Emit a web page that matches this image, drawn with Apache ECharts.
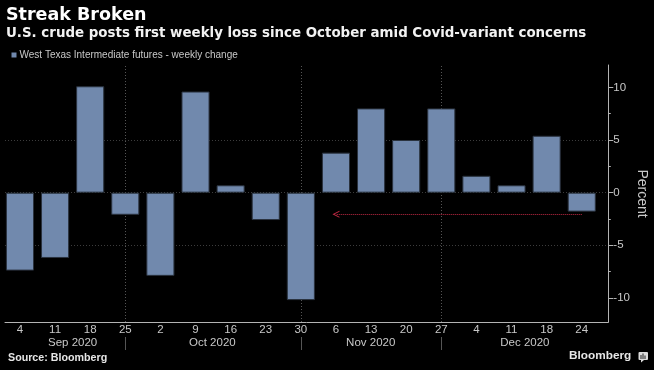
<!DOCTYPE html>
<html><head><meta charset="utf-8">
<script src="https://cdn.jsdelivr.net/npm/echarts@6/dist/echarts.min.js"></script>
<style>html,body{margin:0;padding:0;background:#000;}#c{width:654px;height:370px;}</style>
</head><body><div id="c"></div>
<script>
// ---- data ----
const weeks = ['4','11','18','25','2','9','16','23','30','6','13','20','27','4','11','18','24'];
const weeklyChange = [-7.4,-6.2,10.1,-2.1,-7.9,9.6,0.7,-2.6,-10.2,3.8,8.0,5.0,8.0,1.6,0.7,5.4,-1.8];
const months = ['Sep 2020','Oct 2020','Nov 2020','Dec 2020'];
const monthCenters = [1.5, 5.48, 9.99, 14.38];
const monthBreaks = [3, 8, 12];
const yTicks = [-10,-5,0,5,10];
const yMinorTicks = [-7.5,-2.5,2.5,7.5];
const arrowFrom = 16, arrowTo = 9, arrowLevel = -2.06;
const seriesName = 'West Texas Intermediate futures - weekly change';
const titleText = 'Streak Broken';
const subtitleText = 'U.S. crude posts first weekly loss since October amid Covid-variant concerns';
const sourceText = 'Source: Bloomberg';

const Y_MIN = -12.28, Y_MAX = 12.12;
const AX = '#b4b4b4', TXT = '#c8c8c8', FONT = 'Liberation Sans';
const chevron = 'path://M0,9 L5,0 L10,9 L8.6,9 L5,2.6 L1.4,9 Z';

const chart = echarts.init(document.getElementById('c'), null, {renderer:'canvas'});
const frameGrid = {left:5, right:45.7, top:65, bottom:48, outerBoundsMode:'none', containLabel:false};
chart.setOption({
  backgroundColor:'#000',
  animation:false,
  legend:{show:true, data:[seriesName], left:11.5, top:50, padding:0, itemWidth:5, itemHeight:5, icon:'rect',
    itemStyle:{borderWidth:0},
    textStyle:{color:TXT, fontSize:10, fontFamily:FONT, padding:[0,0,0,-2]}},
  grid:[
    {left:2.4, right:54.7, top:65, bottom:48, outerBoundsMode:'none', containLabel:false},
    Object.assign({}, frameGrid),
    Object.assign({}, frameGrid)
  ],
  xAxis:[
    {gridIndex:0, type:'category', data:weeks, boundaryGap:true,
      axisLine:{show:false}, axisTick:{show:false}, splitLine:{show:false},
      axisLabel:{color:TXT, fontSize:11.5, fontFamily:FONT, margin:2, interval:0}},
    {gridIndex:1, type:'value', min:0, max:1, show:true,
      axisLine:{show:true, onZero:false, lineStyle:{color:AX, width:1}},
      axisTick:{show:false}, axisLabel:{show:false}, splitLine:{show:false}},
    {gridIndex:2, type:'value', min:0, max:1, show:false}
  ],
  yAxis:[
    {gridIndex:0, type:'value', min:Y_MIN, max:Y_MAX, show:false, splitLine:{show:false}},
    {gridIndex:1, type:'value', position:'right', min:Y_MIN, max:Y_MAX, splitNumber:5,
      axisLine:{show:true, onZero:false, lineStyle:{color:AX, width:1}},
      axisTick:{show:true, inside:false, length:5, lineStyle:{color:AX}, customValues:yTicks},
      axisLabel:{show:true, customValues:yTicks, color:TXT, fontSize:11.5, fontFamily:FONT, margin:5, align:'left'},
      splitLine:{show:true, showMinLine:false, showMaxLine:false, lineStyle:{color:'#3c3c3c', type:[1,2], width:1}},
      name:'Percent', nameLocation:'middle', nameRotate:-90, nameGap:27, nameMoveOverlap:false,
      nameTextStyle:{color:TXT, fontSize:14, fontFamily:FONT}},
    {gridIndex:2, type:'value', position:'right', min:Y_MIN, max:Y_MAX,
      axisLine:{show:false, onZero:false}, axisLabel:{show:false}, splitLine:{show:false},
      axisTick:{show:true, inside:false, length:2.5, lineStyle:{color:AX}, customValues:yMinorTicks}}
  ],
  series:[
    {type:'line', xAxisIndex:0, yAxisIndex:0, data:[], z:0, silent:true,
      markLine:{silent:true, symbol:['none','none'], label:{show:false}, z:0,
        lineStyle:{color:'#555', type:[1,2], width:1},
        data: monthBreaks.map(i => ({xAxis:i}))}},
    {name:seriesName, type:'bar', xAxisIndex:0, yAxisIndex:0, data:weeklyChange, z:3,
      barCategoryGap:'20%',
      itemStyle:{color:'#7189ad', borderColor:'#2a323e', borderWidth:1},
      markLine:{silent:true, symbol:['none', chevron], symbolSize:[7,7], label:{show:false},
        lineStyle:{color:'#c42a45', type:[1,1], width:1},
        data:[[{coord:[arrowFrom, arrowLevel]},{coord:[arrowTo, arrowLevel]}]]}}
  ]
});

// positions for month labels and separators derived from the category axis
const p0 = chart.convertToPixel({xAxisIndex:0}, 0);
const p16 = chart.convertToPixel({xAxisIndex:0}, weeks.length-1);
const step = (p16 - p0) / (weeks.length - 1);
const xAt = v => p0 + v * step;

const g = [
  {type:'text', left:6, top:6.5, style:{text:titleText, fill:'#fff', font:'bold 17.5px "DejaVu Sans"'}},
  {type:'text', left:6, top:27.5, style:{text:subtitleText, fill:'#f2f2f2', font:'bold 13.4px "DejaVu Sans"'}},
  {type:'text', left:8, top:353, style:{text:sourceText, fill:'#e6e6e6', font:'bold 10.7px "Liberation Sans"'}},
  {type:'text', left:569, top:350, style:{text:'Bloomberg', fill:'#e6e6e6', font:'bold 11.8px "Liberation Sans"'}},
  {type:'rect', shape:{x:638.5, y:352, width:9.5, height:8, r:1}, style:{fill:'#dcdcdc'}},
  {type:'rect', shape:{x:640.5, y:355, width:1, height:4}, style:{fill:'#222'}},
  {type:'rect', shape:{x:642.5, y:353.5, width:1, height:5.5}, style:{fill:'#222'}},
  {type:'rect', shape:{x:644.5, y:355.5, width:1, height:3.5}, style:{fill:'#222'}},
  {type:'polygon', shape:{points:[[641,360],[644,360],[641,362.5]]}, style:{fill:'#dcdcdc'}}
];
months.forEach((m, k) => {
  g.push({type:'text', x:xAt(monthCenters[k]), y:343,
    style:{text:m, fill:TXT, font:'11.5px "Liberation Sans"', textAlign:'center', textVerticalAlign:'middle'}});
});
monthBreaks.forEach(i => {
  const x = Math.round(xAt(i)) + 0.5;
  g.push({type:'line', shape:{x1:x, y1:337, x2:x, y2:350}, style:{stroke:'#555', lineWidth:1}});
});
chart.setOption({graphic:g});
</script>
</body></html>
